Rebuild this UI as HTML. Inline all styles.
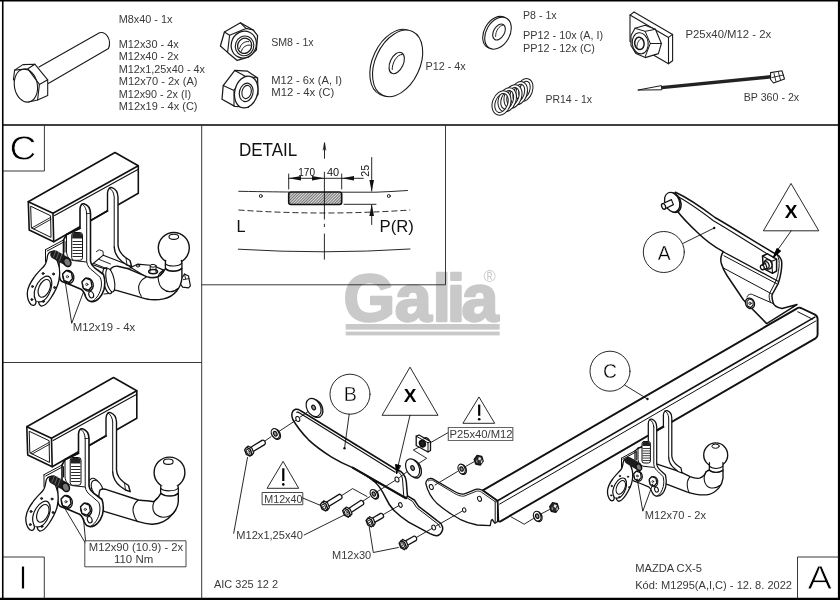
<!DOCTYPE html><html><head><meta charset="utf-8"><title>Galia MAZDA CX-5 M1295</title>
<style>html,body{margin:0;padding:0;background:#fff}svg{display:block;will-change:transform}</style></head><body>
<svg width="840" height="600" viewBox="0 0 840 600">
<rect width="840" height="600" fill="#fff"/>
<g fill="#c9c9c9" stroke="#c9c9c9" font-family='"Liberation Sans", sans-serif' font-weight="bold">
<text y="320.6" x="343.6 394.8 432.4 446.8 461.6" font-size="66.5" stroke-width="2.4" stroke-linejoin="round">Galia</text>
<rect x="345.7" y="324" width="154" height="5.6" stroke="none"/>
<rect x="345.7" y="331.6" width="154" height="3.8" stroke="none"/>
</g>
<text x="489.7" y="282.4" font-size="16.6" text-anchor="middle" fill="#c9c9c9" font-family='"Liberation Sans", sans-serif'>®</text>
<g stroke="#000" fill="none">
<path d="M2.75,0 V600" stroke-width="1.6" />
<path d="M839,0 V600" stroke-width="2.2" />
<path d="M0,0.7 H840" stroke-width="1.6" />
<path d="M0,599 H840" stroke-width="2.4" />
<path d="M2,125 H840" stroke-width="1.7" />
</g>
<g stroke="#222" fill="none">
<path d="M3,171 H44.4 V125" stroke-width="0.9" />
<path d="M201.7,125 V599" stroke-width="0.9" />
<path d="M3,362.5 H201.7" stroke-width="0.9" />
<path d="M3,557 H44.3 V598" stroke-width="0.9" />
<path d="M201.7,284.8 H445.5 V125" stroke-width="0.9" />
<path d="M839,557 H797.5 V598" stroke-width="0.9" />
</g>
<g stroke="#111" fill="none" stroke-linecap="round" stroke-linejoin="round">
<defs><pattern id="hat" width="2" height="2" patternUnits="userSpaceOnUse" patternTransform="rotate(45)"><rect width="2" height="2" fill="#dcdcdc" stroke="none"/><rect width="0.9" height="2" fill="#6a6a6a" stroke="none"/></pattern></defs>
<path d="M324.5,158.3 V143.5" stroke-width="0.9" />
<path d="M324.5,143 L323.2,150 M324.5,143 L325.8,150" stroke-width="0.8" />
<path d="M288.7,174 V189 M341.7,174 V189" stroke-width="0.9" />
<path d="M288.7,178.3 H363.3" stroke-width="0.9" />
<g fill="#111" stroke="none">
<path d="M288.7,178.3 L301,176 V180.6Z"/>
<path d="M324.5,178.3 L312,176 V180.6Z"/>
<path d="M341.7,178.3 L354,176 V180.6Z"/>
<path d="M371.7,191.7 L369.4,180 H374Z"/>
<path d="M371.7,204.3 L369.4,216 H374Z"/>
</g>
<path d="M371.7,157.5 V191 M371.7,205 V224.5" stroke-width="0.9" />
<path d="M238.7,191.3 Q281,192 288.7,192 M341.7,192.2 H376 Q392,191.6 407.5,190.5" stroke-width="0.9" />
<path d="M344,204.3 H376" stroke-width="0.9" />
<path d="M238.5,210 Q324,216 410.2,210" stroke-width="0.9" stroke-dasharray="6 3" stroke-linecap="butt"/>
<path d="M238.3,249.2 Q324,254.5 410,249" stroke-width="0.9" />
<circle cx="260.8" cy="196" r="1.5" stroke-width="0.9" fill="none"/>
<circle cx="388.8" cy="196" r="1.5" stroke-width="0.9" fill="none"/>
<rect x="288.7" y="192" width="53" height="12.5" rx="2.2" fill="url(#hat)" stroke-width="1.6"/>
<path d="M324.4,171.8 V219.5 M324.4,223.8 V227 M324.4,233.6 V259.6" stroke-width="0.9" stroke-linecap="butt"/>
<g stroke="#1a1a1a">
<path d="M39,67 L99.5,32.7 C106,31 112,40 108.5,48.5 L48.3,83.5" stroke-width="1.1" fill="#fff"/>
<path d="M14.6,70.1 L22.9,64.6 L34.8,64.2 L47.7,79.8 L47.7,95.4 L37.6,100 L27,101.8 L13.7,81.6 Z" stroke-width="1.1" fill="#fff" stroke="none"/>
<path d="M13.4,80 L14.6,70.1 L22.9,64.6 L34.8,64.2 L47.7,79.8 L47.7,95.4 L37.6,100" stroke-width="1.1" />
<path d="M14.6,70.1 L27.9,68.8 L39.4,84.4 L37.6,100 M27.9,68.8 L34.8,64.2 M39.4,84.4 L47.7,79.8 M28.5,102 L37.6,100" stroke-width="1.1" />
<ellipse cx="25.9" cy="85.6" rx="11.5" ry="16.6" transform="rotate(-10 25.9 85.6)" stroke-width="1.1" fill="none" />
<path d="M220.4,46 L224.4,32 L240.4,22.8 L253.2,30 L257.6,35.6 L256.4,50 L248.4,57.2 L237.2,60.4 L227.6,52.4 Z" stroke-width="1.25" fill="#fff"/>
<path d="M224.4,32 L229.6,35.2 L227.6,52.4 M229.6,35.2 L246,28.4 L253.2,30 M240.4,22.8 L246,28.4" stroke-width="1.1" />
<ellipse cx="243.8" cy="44.6" rx="12.4" ry="13.6" transform="rotate(25 243.8 44.6)" stroke-width="1.25" fill="#fff" />
<ellipse cx="244.6" cy="45.9" rx="9.2" ry="9.9" transform="rotate(20 244.6 45.9)" stroke-width="1.1" fill="#fff" />
<ellipse cx="244.6" cy="45.8" rx="7" ry="7.7" transform="rotate(20 244.6 45.8)" stroke-width="1.3" fill="#fff" />
<path d="M239.6,48.6 C240.5,44 244.5,41 248.6,41.6 M241.4,51.2 C242.5,47 246.5,44.4 250.4,45.2" stroke-width="1" />
<path d="M222,99.2 L223.2,85.6 L234.8,70.4 L247.6,71.2 L257.6,78 L258,94.4 L248.4,107.2 L234.8,106.4 Z" stroke-width="1.25" fill="#fff"/>
<path d="M223.2,85.6 L234,90.4 L234,106 M234,90.4 L244.8,76 L257.6,78 M234.8,70.4 L244.8,76" stroke-width="1.1" />
<ellipse cx="246.2" cy="92" rx="11.4" ry="16.2" transform="rotate(14 246.2 92)" stroke-width="1.25" fill="#fff" />
<ellipse cx="246.2" cy="92.4" rx="6.8" ry="9.3" transform="rotate(14 246.2 92.4)" stroke-width="1.2" fill="#fff" />
<ellipse cx="246.6" cy="92" rx="4.6" ry="6.7" transform="rotate(14 246.6 92)" stroke-width="1.05" fill="none" />
<ellipse cx="394.9" cy="62.6" rx="22.3" ry="35.2" transform="rotate(25 394.9 62.6)" stroke-width="1.1" fill="#fff" />
<ellipse cx="397.6" cy="63.4" rx="22.3" ry="35.2" transform="rotate(25 397.6 63.4)" stroke-width="1.1" fill="#fff" />
<ellipse cx="396.7" cy="63" rx="6.6" ry="11.4" transform="rotate(25 396.7 63)" stroke-width="1.1" fill="#fff" />
<path d="M392.2,69.5 C392,63 397,54 402.2,54.5" stroke-width="1" />
<ellipse cx="496.0" cy="32.4" rx="11.7" ry="17.2" transform="rotate(30 496.0 32.4)" stroke-width="1.1" fill="#fff" />
<ellipse cx="498.0" cy="33.2" rx="11.7" ry="17.2" transform="rotate(30 498.0 33.2)" stroke-width="1.1" fill="#fff" />
<ellipse cx="499" cy="32" rx="5.4" ry="8.6" transform="rotate(30 499 32)" stroke-width="1.1" fill="#fff" />
<path d="M495.6,36.5 C495.5,31 499,25.5 503,25.2" stroke-width="0.9" />
<ellipse cx="524.5" cy="90.0" rx="6.6" ry="10.4" transform="rotate(20 524.5 90.0)" fill="none" stroke="#1a1a1a" stroke-width="3.8"/>
<ellipse cx="524.5" cy="90.0" rx="6.6" ry="10.4" transform="rotate(20 524.5 90.0)" fill="none" stroke="#fff" stroke-width="1.8"/>
<ellipse cx="518.8" cy="93.2" rx="6.8" ry="10.6" transform="rotate(20 518.8 93.2)" fill="none" stroke="#1a1a1a" stroke-width="3.8"/>
<ellipse cx="518.8" cy="93.2" rx="6.8" ry="10.6" transform="rotate(20 518.8 93.2)" fill="none" stroke="#fff" stroke-width="1.8"/>
<ellipse cx="513.0" cy="96.5" rx="7.1" ry="10.8" transform="rotate(20 513.0 96.5)" fill="none" stroke="#1a1a1a" stroke-width="3.8"/>
<ellipse cx="513.0" cy="96.5" rx="7.1" ry="10.8" transform="rotate(20 513.0 96.5)" fill="none" stroke="#fff" stroke-width="1.8"/>
<ellipse cx="507.2" cy="99.8" rx="7.3" ry="11.0" transform="rotate(20 507.2 99.8)" fill="none" stroke="#1a1a1a" stroke-width="3.8"/>
<ellipse cx="507.2" cy="99.8" rx="7.3" ry="11.0" transform="rotate(20 507.2 99.8)" fill="none" stroke="#fff" stroke-width="1.8"/>
<ellipse cx="501.5" cy="103.0" rx="7.6" ry="11.2" transform="rotate(20 501.5 103.0)" fill="none" stroke="#1a1a1a" stroke-width="3.8"/>
<ellipse cx="501.5" cy="103.0" rx="7.6" ry="11.2" transform="rotate(20 501.5 103.0)" fill="none" stroke="#fff" stroke-width="1.8"/>
<path d="M630,15.1 L634,12 L672.6,34.4 L672.6,60.7 L668.5,63.7 L630,41.4 Z" stroke-width="1.1" fill="#fff"/>
<path d="M630,15.1 L668.5,37.4 L668.5,63.7 M668.5,37.4 L672.6,34.4" stroke-width="1.1" />
<path d="M631,35.4 L635,28.3 L645.2,25.2 L655.4,29.3 L661.4,43.5 L658.4,53.6 L645.2,57.6 L636,53.6 L631,45.5 Z" stroke-width="1.1" fill="#fff"/>
<path d="M635,28.3 L645.2,31.3 L650.3,43.5 L645.2,56.6 M645.2,31.3 L655.4,29.3 M650.3,43.5 L661.4,43.5" stroke-width="1" />
<ellipse cx="640.2" cy="43.3" rx="8" ry="10.6" transform="rotate(-8 640.2 43.3)" stroke-width="1.1" fill="#fff" />
<ellipse cx="639.4" cy="43.4" rx="4.7" ry="6.2" transform="rotate(-8 639.4 43.4)" stroke-width="1.5" fill="none" />
<path d="M637,47.5 C636.5,44 638.5,39.5 641.5,38.5" stroke-width="0.9" />
<path d="M638.2,90 L661.4,85.6 L661.8,89.4 Z" stroke-width="1" fill="#fff"/>
<path d="M661.4,87.6 L771,76.8" stroke-width="3.4" stroke="#222" stroke-linecap="butt"/>
<path d="M770.6,72.6 L782,70.8 L784.5,79 L773.5,83 L770.6,79.5 Z" stroke-width="1.1" fill="#fff"/>
<path d="M774,73.5 L776,81.5 M778.5,72.5 L780.5,80 M772,77.5 L783.5,75" stroke-width="0.9" />
</g>
<g transform="translate(0 0)" stroke="#111">
<path d="M92,264.5 L103.3,255.2 L128.5,265 L131,268 L108,270 Z" stroke-width="1.1" fill="#fff"/>
<path d="M94.2,263.6 L106.5,268.6" stroke-width="1" />
<path d="M103.3,255.2 L103,251.2 L99.2,249.8 L96.4,251.6" stroke-width="0.9" />
<path d="M98.5,259.2 L110.5,264" stroke-width="0.9" />
<circle cx="173.8" cy="248" r="15.5" stroke-width="1.4" fill="#fff"/>
<ellipse cx="173.8" cy="236.8" rx="4.8" ry="2.6" transform="rotate(0 173.8 236.8)" stroke-width="1.1" fill="none" />
<path d="M165.6,260.5 C165.2,264 165.2,266.5 165.5,268.5 C169,272.5 178.5,272.2 181.9,268.2 C182.2,265.5 182,263 181.4,260.5" stroke-width="1.3" fill="#fff"/>
<path d="M165.4,263.6 C168.5,267 178.8,266.8 182,263.2" stroke-width="1.1" />
<path d="M181.9,278 L184.5,274 L188.5,276 L190.4,285.8 L188.5,287.8 L182.6,287.1 L180.5,284" stroke-width="1.2" fill="#fff"/>
<path d="M183.4,279.6 L189,278.6 M184.5,274 L185.6,279" stroke-width="0.9" />
<path d="M130.8,267.5 L137.4,264.2 L153.1,265.5 L163.6,270.1 L159,277 L147,277.5 Z" stroke-width="1.2" fill="#fff"/>
<ellipse cx="138" cy="265.9" rx="1.7" ry="1.1" transform="rotate(0 138 265.9)" stroke-width="1" fill="none" />
<path d="M150.2,271 L150.2,266 L156,266 L156,271.5" stroke-width="1.1" fill="#fff"/>
<ellipse cx="153.1" cy="265.8" rx="2.9" ry="1.4" transform="rotate(0 153.1 265.8)" stroke-width="1" fill="#fff" />
<ellipse cx="153.1" cy="271.6" rx="4.4" ry="2.1" transform="rotate(0 153.1 271.6)" stroke-width="1.6" fill="none" />
<path d="M111.2,268.2 C113,266.6 115.5,266 117.7,266.2 L128.2,268.8 L146.6,276.7 C152,278.6 156.5,278 160,275.6 C162.5,273.5 164.3,271 165.5,268.5 C168,272.2 178,272.2 181.9,268.2 L181.9,278 C181.5,283 179.5,287.5 176.7,291 C173.5,295 169,297.8 163.6,298.9 C159,299.8 154.5,299.9 150.5,299.6 C146,299 141.5,297.6 137.4,296.3 L116.4,290.4 L109.9,289.8 C108,286 107.5,281 108.3,276 C108.9,272.5 109.8,270 111.2,268.2 Z" stroke-width="1.4" fill="#fff"/>
<path d="M146.6,276.7 C141,279.5 138,284.5 138.7,289 C139,292 140,294.5 141.3,296.3" stroke-width="1.1" />
<path d="M163.8,270 C159.5,272.5 157.5,276 158.3,279.3 C158.8,283.5 160,286.5 162.3,288.5 C164.5,290.5 167.5,291.7 170.1,291.7 C173,291.7 176,290.5 178,288.5" stroke-width="1.1" />
<ellipse cx="107.5" cy="281" rx="4.2" ry="13" transform="rotate(-12 107.5 281)" stroke-width="1.2" fill="#fff" />
<ellipse cx="110.3" cy="280.2" rx="3.9" ry="12" transform="rotate(-12 110.3 280.2)" stroke-width="1.1" fill="#fff" />
<path d="M103.5,268.5 L107,267.5 M104,294 L108,293.6" stroke-width="1" />
<path d="M28.3,201.7 L115,152.5 L138.3,165.8 L138.3,193.3 L53.7,241.7 L29.2,230 Z" stroke-width="1.6" fill="#fff"/>
<path d="M28.3,201.7 L53,213.3 L53.7,241.7" stroke-width="1.6" />
<path d="M53,213.3 L138.3,165.8" stroke-width="1.6" />
<path d="M54.6,215.6 L138.3,169.2" stroke-width="1.1" />
<path d="M31,206.4 L50.6,215.7 L51,237.4 L31.7,228 Z" stroke-width="1" />
<path d="M31.7,228 L50.6,217.4 M33.6,229 L51,219.3" stroke-width="0.9" />
<path d="M107.5,210.8 L107.5,193 C107.8,188.5 110,187 112,187.6 C116,189 117.8,193 118,197 L118,245 C118.5,251 121.5,254.5 125.5,257.5 L130,260.5 L131.7,266.7 L127,265 L122,261.5 C117,257.5 114.5,253 114.2,247 L114.2,214 Z" stroke-width="1.6" fill="#fff" stroke="none"/>
<path d="M107.5,210.8 L107.5,193 C107.8,188.5 110,187 112,187.6 C116,189 117.8,193 118,197 L118,245 C118.5,251 121.5,254.5 125.5,257.5 L130,260.5 L131.7,266.7 L127,265 L122,261.5 C117,257.5 114.5,253 114.2,247" stroke-width="1.4" />
<path d="M90.5,220.6 L107.5,210.8" stroke-width="1.6" />
<path d="M114.2,246.7 L114.2,197 C113.8,192.5 112,189.5 109.5,188" stroke-width="1" />
<path d="M127,265 L126,258" stroke-width="0.9" />
<path d="M80,228.3 L80,209 C80.2,205 82,203.4 84,203.8 C88,205 90.3,209 90.5,213.5 L90.5,261 C91,265 93.5,267.5 98.3,270.5 L103.5,274.5 C105,279 105,285 104,289.5 C102,296 97.5,301.5 92,301.6 C88.5,301.5 86.5,299 85.5,296.5 C84.5,293 83,290.5 81,289.3 L71,285 L62,281.5 C59.5,280 59,276 59,272 L59,262.5 L63.5,255 L63.5,240 L66.7,234.4 Z" stroke-width="1.6" fill="#fff"/>
<path d="M86.7,213.5 L86.7,261.5 C87.2,266 89.5,268.5 93,271 L100.2,277.3 C101.8,281 101.8,285 100.8,289 C99,295.5 95.5,299.5 92,301.6" stroke-width="1" />
<path d="M86.7,213.5 C86.3,208.5 84.5,205.5 82,204.2" stroke-width="1" />
<path d="M90.5,213.5 L86.7,213.5" stroke-width="0.8" />
<path d="M66.5,234.5 L66.5,252 C67,257 69.5,259.5 73,260.5 L86.5,262" stroke-width="1" />
<path d="M66.7,234.4 L80,228.3" stroke-width="1.6" />
<rect x="71.7" y="232.5" width="10.8" height="27.8" rx="2.6" fill="#fff" stroke-width="1"/>
<path d="M72.2,238.5 V235 Q72.2,233 74.5,233 H79.8 Q82,233 82,235 V238.5Z" fill="#222" stroke="none"/>
<path d="M73,241.5 H81.5 M73,244.5 H81.5 M73,247.5 H81.5 M73,250.5 H81.5 M73,253.5 H81.5 M73,256.5 H81.5" stroke-width="0.9" />
<path d="M45.5,249.7 L63.5,240 L65,241.5 L65,252 M45.5,249.7 L45.5,262 M47.2,251 L63.8,242" stroke-width="1" />
<path d="M53.7,251.2 C50,251.5 48,253 47.5,256 C47,260 46.5,263 44.5,265.5 C41,269.5 37,273 34,277.5 C30,283 27.5,288 27.3,293 C27.2,298 28.5,302 31,304.5 C33,306 35,305.5 35.7,303.5 C36.2,302 36,301 35.5,300 L38.5,301.8 C38.8,303.5 39.5,305.3 41,306 C44,306.5 47.5,303 50.5,298.5 C54.5,292.5 57.5,287 58.8,281 C60,275 60,268 58,263 Z" stroke-width="1.3" fill="#fff"/>
<path d="M35.5,300 C33.5,296 34,289.5 37.5,283.5 C41.5,277 47,274.5 50,277.5 C53,281 52,289 48.5,295 C45.5,300 41.5,302.5 38.5,301.8" stroke-width="1.2" fill="#fff"/>
<ellipse cx="44.3" cy="288.4" rx="5.4" ry="9.4" transform="rotate(24 44.3 288.4)" stroke-width="1.1" fill="none" />
<circle cx="43.1" cy="273.5" r="1.0" stroke-width="0.9" fill="#333"/>
<circle cx="53.5" cy="274" r="1.0" stroke-width="0.9" fill="#333"/>
<circle cx="32.5" cy="286.5" r="1.0" stroke-width="0.9" fill="#333"/>
<circle cx="54.6" cy="287.5" r="1.0" stroke-width="0.9" fill="#333"/>
<circle cx="31.8" cy="299.6" r="1.0" stroke-width="0.9" fill="#333"/>
<circle cx="43.4" cy="301.4" r="1.0" stroke-width="0.9" fill="#333"/>
<path d="M54.5,254.5 L66,261" stroke-width="8.5" stroke="#1c1c1c" stroke-linecap="round"/>
<path d="M56,250.5 L53.5,257 M59,252 L56.5,258.7 M62,253.8 L59.5,260.5" stroke-width="0.8" stroke="#777"/>
<ellipse cx="67.3" cy="262.3" rx="3.4" ry="4.4" transform="rotate(-25 67.3 262.3)" stroke-width="1.6" fill="#777" />
<ellipse cx="68.39999999999999" cy="276.9" rx="5.4" ry="6.6" transform="rotate(-15 68.39999999999999 276.9)" stroke-width="1.3" fill="#fff" />
<path d="M62.599999999999994,274.1 L66.19999999999999,270.5 L71.39999999999999,272.5 L72.6,278.5 L69.19999999999999,282.5 L63.99999999999999,280.7 Z" stroke-width="1.4" fill="#fff"/>
<circle cx="67.39999999999999" cy="276.7" r="1.1" stroke-width="0.8" fill="none"/>
<ellipse cx="87.8" cy="284.59999999999997" rx="5.4" ry="6.6" transform="rotate(-15 87.8 284.59999999999997)" stroke-width="1.3" fill="#fff" />
<path d="M82,281.8 L85.6,278.2 L90.8,280.2 L92,286.2 L88.6,290.2 L83.4,288.4 Z" stroke-width="1.4" fill="#fff"/>
<circle cx="86.8" cy="284.4" r="1.1" stroke-width="0.8" fill="none"/>
<ellipse cx="91.2" cy="294.7" rx="2.3" ry="3.3" transform="rotate(-20 91.2 294.7)" stroke-width="1.1" fill="#fff" />
</g>
<path d="M65,280.5 L71.7,323.3 L83.3,292.5" stroke-width="0.9" />
<g transform="translate(-1.5 225)" stroke="#111">
<circle cx="171" cy="247.5" r="15.4" stroke-width="1.4" fill="#fff"/>
<ellipse cx="169.8" cy="236.7" rx="4.8" ry="2.7" transform="rotate(0 169.8 236.7)" stroke-width="1.1" fill="none" />
<path d="M162.4,260.5 C162,264 162,266.5 162.3,268.3 C166,272 176.5,272 179.8,268.3 C180.1,266 180,263.5 179.4,260.5" stroke-width="1.3" fill="#fff"/>
<path d="M162.2,263.4 C165.5,266.8 176.8,266.6 179.9,263" stroke-width="1.1" />
<ellipse cx="96.5" cy="262" rx="5.6" ry="9.2" transform="rotate(-25 96.5 262)" stroke-width="1.1" fill="#fff" />
<ellipse cx="98.6" cy="263.4" rx="5.2" ry="8.6" transform="rotate(-25 98.6 263.4)" stroke-width="1.1" fill="#fff" />
<path d="M101.5,265 C103,264 105,263.9 106.5,264.2 L139.8,275 C143,275.6 146,275.8 148.2,275.8 C151,276 153.5,276.5 154.8,276.7 C157.5,275.3 160.2,272 162.3,268.3 C166,272 176.5,272 179.8,268.3 L179.8,276.7 C179.5,281 177.5,285 174.8,288.3 C172,291.8 168.5,294.8 164.8,296.7 C161,298.6 157,299.3 153.2,299.2 C148.5,299 144,298 139.8,296.7 L106.5,286.7 L102.3,285 C100.5,281 100,276 100.3,271.5 C100.5,268.5 100.8,266.5 101.5,265 Z" stroke-width="1.4" fill="#fff"/>
<path d="M139.8,275 C135.5,278.5 133.8,283 134.8,287.5 C135.6,291 137,294.5 139,296.7" stroke-width="1.1" />
<path d="M158.2,273.3 C155,276.5 153.8,281.5 154.8,285.5 C156,289.5 160.5,292 164.5,292.2 C169.5,292.4 174.5,289.5 177.3,285" stroke-width="1.1" />
<path d="M28.3,201.7 L115,152.5 L138.3,165.8 L138.3,193.3 L53.7,241.7 L29.2,230 Z" stroke-width="1.6" fill="#fff"/>
<path d="M28.3,201.7 L53,213.3 L53.7,241.7" stroke-width="1.6" />
<path d="M53,213.3 L138.3,165.8" stroke-width="1.6" />
<path d="M54.6,215.6 L138.3,169.2" stroke-width="1.1" />
<path d="M31,206.4 L50.6,215.7 L51,237.4 L31.7,228 Z" stroke-width="1" />
<path d="M31.7,228 L50.6,217.4 M33.6,229 L51,219.3" stroke-width="0.9" />
<path d="M107.5,210.8 L107.5,193 C107.8,188.5 110,187 112,187.6 C116,189 117.8,193 118,197 L118,245 C118.5,251 121.5,254.5 125.5,257.5 L130,260.5 L131.7,266.7 L127,265 L122,261.5 C117,257.5 114.5,253 114.2,247 L114.2,214 Z" stroke-width="1.6" fill="#fff" stroke="none"/>
<path d="M107.5,210.8 L107.5,193 C107.8,188.5 110,187 112,187.6 C116,189 117.8,193 118,197 L118,245 C118.5,251 121.5,254.5 125.5,257.5 L130,260.5 L131.7,266.7 L127,265 L122,261.5 C117,257.5 114.5,253 114.2,247" stroke-width="1.4" />
<path d="M90.5,220.6 L107.5,210.8" stroke-width="1.6" />
<path d="M114.2,246.7 L114.2,197 C113.8,192.5 112,189.5 109.5,188" stroke-width="1" />
<path d="M127,265 L126,258" stroke-width="0.9" />
<path d="M80,228.3 L80,209 C80.2,205 82,203.4 84,203.8 C88,205 90.3,209 90.5,213.5 L90.5,261 C91,265 93.5,267.5 98.3,270.5 L103.5,274.5 C105,279 105,285 104,289.5 C102,296 97.5,301.5 92,301.6 C88.5,301.5 86.5,299 85.5,296.5 C84.5,293 83,290.5 81,289.3 L71,285 L62,281.5 C59.5,280 59,276 59,272 L59,262.5 L63.5,255 L63.5,240 L66.7,234.4 Z" stroke-width="1.6" fill="#fff"/>
<path d="M86.7,213.5 L86.7,261.5 C87.2,266 89.5,268.5 93,271 L100.2,277.3 C101.8,281 101.8,285 100.8,289 C99,295.5 95.5,299.5 92,301.6" stroke-width="1" />
<path d="M86.7,213.5 C86.3,208.5 84.5,205.5 82,204.2" stroke-width="1" />
<path d="M90.5,213.5 L86.7,213.5" stroke-width="0.8" />
<path d="M66.5,234.5 L66.5,252 C67,257 69.5,259.5 73,260.5 L86.5,262" stroke-width="1" />
<path d="M66.7,234.4 L80,228.3" stroke-width="1.6" />
<rect x="71.7" y="232.5" width="10.8" height="27.8" rx="2.6" fill="#fff" stroke-width="1"/>
<path d="M72.2,238.5 V235 Q72.2,233 74.5,233 H79.8 Q82,233 82,235 V238.5Z" fill="#222" stroke="none"/>
<path d="M73,241.5 H81.5 M73,244.5 H81.5 M73,247.5 H81.5 M73,250.5 H81.5 M73,253.5 H81.5 M73,256.5 H81.5" stroke-width="0.9" />
<path d="M45.5,249.7 L63.5,240 L65,241.5 L65,252 M45.5,249.7 L45.5,262 M47.2,251 L63.8,242" stroke-width="1" />
<path d="M53.7,251.2 C50,251.5 48,253 47.5,256 C47,260 46.5,263 44.5,265.5 C41,269.5 37,273 34,277.5 C30,283 27.5,288 27.3,293 C27.2,298 28.5,302 31,304.5 C33,306 35,305.5 35.7,303.5 C36.2,302 36,301 35.5,300 L38.5,301.8 C38.8,303.5 39.5,305.3 41,306 C44,306.5 47.5,303 50.5,298.5 C54.5,292.5 57.5,287 58.8,281 C60,275 60,268 58,263 Z" stroke-width="1.3" fill="#fff"/>
<path d="M35.5,300 C33.5,296 34,289.5 37.5,283.5 C41.5,277 47,274.5 50,277.5 C53,281 52,289 48.5,295 C45.5,300 41.5,302.5 38.5,301.8" stroke-width="1.2" fill="#fff"/>
<ellipse cx="44.3" cy="288.4" rx="5.4" ry="9.4" transform="rotate(24 44.3 288.4)" stroke-width="1.1" fill="none" />
<circle cx="43.1" cy="273.5" r="1.0" stroke-width="0.9" fill="#333"/>
<circle cx="53.5" cy="274" r="1.0" stroke-width="0.9" fill="#333"/>
<circle cx="32.5" cy="286.5" r="1.0" stroke-width="0.9" fill="#333"/>
<circle cx="54.6" cy="287.5" r="1.0" stroke-width="0.9" fill="#333"/>
<circle cx="31.8" cy="299.6" r="1.0" stroke-width="0.9" fill="#333"/>
<circle cx="43.4" cy="301.4" r="1.0" stroke-width="0.9" fill="#333"/>
<path d="M54.5,254.5 L66,261" stroke-width="8.5" stroke="#1c1c1c" stroke-linecap="round"/>
<path d="M56,250.5 L53.5,257 M59,252 L56.5,258.7 M62,253.8 L59.5,260.5" stroke-width="0.8" stroke="#777"/>
<ellipse cx="67.3" cy="262.3" rx="3.4" ry="4.4" transform="rotate(-25 67.3 262.3)" stroke-width="1.6" fill="#777" />
<ellipse cx="68.39999999999999" cy="276.9" rx="5.4" ry="6.6" transform="rotate(-15 68.39999999999999 276.9)" stroke-width="1.3" fill="#fff" />
<path d="M62.599999999999994,274.1 L66.19999999999999,270.5 L71.39999999999999,272.5 L72.6,278.5 L69.19999999999999,282.5 L63.99999999999999,280.7 Z" stroke-width="1.4" fill="#fff"/>
<circle cx="67.39999999999999" cy="276.7" r="1.1" stroke-width="0.8" fill="none"/>
<ellipse cx="87.8" cy="284.59999999999997" rx="5.4" ry="6.6" transform="rotate(-15 87.8 284.59999999999997)" stroke-width="1.3" fill="#fff" />
<path d="M82,281.8 L85.6,278.2 L90.8,280.2 L92,286.2 L88.6,290.2 L83.4,288.4 Z" stroke-width="1.4" fill="#fff"/>
<circle cx="86.8" cy="284.4" r="1.1" stroke-width="0.8" fill="none"/>
<ellipse cx="91.2" cy="294.7" rx="2.3" ry="3.3" transform="rotate(-20 91.2 294.7)" stroke-width="1.1" fill="#fff" />
</g>
<path d="M61.6,503 L85.8,543.7 L83.5,518.8" stroke-width="0.9" />
<rect x="85.2" y="540.8" width="100.8" height="26" fill="#fff" stroke="#333" stroke-width="0.9"/>
<g stroke="#111">
<path d="M482.8,490.4 L796.7,308.6 C798,307.6 799.5,307.4 801,308 L814.5,314.4 C816.8,315.6 817.6,317 817.6,319 L817.6,334.6 C817.6,336.6 816.8,337.6 815.5,338.4 L500,521.6 L498.3,521 L497.5,501.4 Z" stroke-width="1.9" fill="#fff"/>
<path d="M497.6,500.7 L814.8,317.1" stroke-width="1.6" />
<path d="M499.6,504.1 L816,320.9" stroke-width="1" />
<path d="M482.8,490.4 L497.6,500.7" stroke-width="1.6" />
<path d="M797.8,311.8 L812.6,319.2" stroke-width="1" />
<circle cx="715.7" cy="454.9" r="12" stroke-width="1.35" fill="#fff"/>
<ellipse cx="715.6" cy="446.2" rx="3.7" ry="2.1" transform="rotate(0 715.6 446.2)" stroke-width="1" fill="none" />
<path d="M656.3,463.8 L680.4,471.8 C684,473.5 687,475.2 690,476.6 C693.5,478 697,478.6 699.6,478.2 C703,477 705,474.5 706.1,471.8 C707.5,470.6 708.6,470.2 709.3,470 C712,473 720,473 723,470 L723,478.2 C722.5,482 721,485.5 718.9,487.9 C716,491 713,493.5 709.3,494.3 C705,495.2 700.5,495 696.4,494.3 C693,493.8 690,493 686.8,491.9 L665.9,483.8 L658,481 C656.5,476 656,470 656.3,463.8 Z" stroke-width="1.35" fill="#fff"/>
<path d="M709.5,462.6 L709.3,470 C712,473 720,473 723,470 L722.9,462.6" stroke-width="1.25" fill="#fff"/>
<path d="M709.4,466.2 C712,469.2 720,469.2 723,466.2" stroke-width="1.05" />
<path d="M690,476.6 C687.6,479.5 686.8,483.5 687.4,487 C687.8,489.5 688.4,491.2 689.2,492.7" stroke-width="1.05" />
<path d="M706.1,471.8 C704,475.5 703.8,479 704.6,481.6 C705.6,485 708,487.4 710.9,487.9 C714,488.4 717.5,487.6 719.7,485.5" stroke-width="1.05" />
<path d="M663.4,426.6 L663.4,415 C663.6,411.5 665.5,410.2 667.3,410.7 C670.3,411.8 671.7,415 671.8,418 L671.8,456 C672.2,460.5 674.5,463.2 677.5,465.5 L681,468 L682,473 L678,471.5 L674.5,468.5 C670.8,465.5 668.9,462 668.7,457.5 L668.7,429.5 Z" stroke-width="1.25" fill="#fff" stroke="none"/>
<path d="M663.4,426.6 L663.4,415 C663.6,411.5 665.5,410.2 667.3,410.7 C670.3,411.8 671.7,415 671.8,418 L671.8,456 C672.2,460.5 674.5,463.2 677.5,465.5 L681,468 L682,473 L678,471.5 L674.5,468.5 C670.8,465.5 668.9,462 668.7,457.5" stroke-width="1.25" />
<path d="M656.7,430.4 L663.4,426.6" stroke-width="1.9" />
<path d="M668.7,457.5 L668.7,418 C668.4,414.5 667,412 665,411" stroke-width="1" />
<path d="M648.3,446 L648.3,423.5 C648.5,420 650,418.8 651.8,419.2 C655,420.3 656.6,423.5 656.7,427 L656.7,464 C657.1,467.5 659,469.5 662,471.8 L665.5,475 C666.5,479 666.5,483 665.7,487 C664.2,492.5 661,496.2 657,496.2 C654.3,496 652.8,494 652,492 C651.3,489.5 650.2,487.8 648.6,486.8 L640.5,483.5 L633.5,480.8 C631.8,479.6 631.5,476.5 631.5,473.5 L631.5,466 L635,460 L635,451 L638,448.2 Z" stroke-width="1.25" fill="#fff"/>
<path d="M653.8,427 L653.8,464.5 C654.2,468 656,470 658.5,472 L663,476.5 C664,480 664,483 663.3,486.5 C662,491.5 659.8,494.6 657,496.2" stroke-width="1" />
<path d="M653.8,427 C653.5,423.3 652,420.8 650,419.6" stroke-width="1" />
<path d="M638,448.2 L638,459.5 C638.4,463.5 640.3,465.4 643,466.2 L653.5,467.4" stroke-width="1" />
<path d="M638,448.2 L648.3,443.5" stroke-width="1.2" />
<rect x="642" y="441.5" width="8.4" height="21.5" rx="2" fill="#fff" stroke-width="1"/>
<path d="M642.4,446 V443.5 Q642.4,442 644,442 H648.4 Q650,442 650,443.5 V446Z" fill="#222" stroke="none"/>
<path d="M643,448.5 H649.6 M643,450.9 H649.6 M643,453.3 H649.6 M643,455.7 H649.6 M643,458.1 H649.6 M643,460.5 H649.6" stroke-width="0.8" />
<path d="M621.5,458.2 L635.5,450.5 L636.7,451.7 L636.7,460 M621.5,458.2 L621.5,467.5 M622.8,459.2 L635.8,452" stroke-width="1" />
<path d="M628,458.5 C625.2,458.7 623.6,460 623.2,462.3 C622.8,465.4 622.4,467.8 620.9,469.7 C618.2,472.8 615,475.6 612.7,479 C609.6,483.3 607.7,487.2 607.5,491.1 C607.4,495 608.4,498.1 610.4,500.1 C612,501.2 613.5,500.9 614,499.3 C614.4,498.1 614.3,497.4 613.9,496.6 L616.2,498 C616.4,499.3 617,500.7 618.2,501.2 C620.5,501.6 623.2,498.9 625.6,495.4 C628.7,490.7 631,486.4 632,481.7 C633,477 633,471.6 631.4,467.7 Z" stroke-width="1.3" fill="#fff"/>
<path d="M613.9,496.6 C612.3,493.5 612.7,488.4 615.4,483.7 C618.6,478.6 622.8,476.7 625.2,479 C627.5,481.7 626.7,488 624,492.7 C621.7,496.6 618.6,498.5 616.2,498" stroke-width="1.2" fill="#fff"/>
<ellipse cx="620.8" cy="487.4" rx="4.1" ry="7.2" transform="rotate(24 620.8 487.4)" stroke-width="1" fill="none" />
<circle cx="619.9" cy="476" r="0.7" stroke-width="0.8" fill="#333"/>
<circle cx="628" cy="476.7" r="0.7" stroke-width="0.8" fill="#333"/>
<circle cx="611.7" cy="486" r="0.7" stroke-width="0.8" fill="#333"/>
<circle cx="629.2" cy="487.2" r="0.7" stroke-width="0.8" fill="#333"/>
<circle cx="611.2" cy="495.4" r="0.7" stroke-width="0.8" fill="#333"/>
<circle cx="619.3" cy="497.1" r="0.7" stroke-width="0.8" fill="#333"/>
<path d="M628.6,460.6 L637.8,466" stroke-width="7.4" stroke="#1c1c1c" stroke-linecap="round"/>
<ellipse cx="638.8" cy="467.2" rx="2.6" ry="3.4" transform="rotate(-25 638.8 467.2)" stroke-width="1.4" fill="#777" />
<ellipse cx="638.1" cy="476.1" rx="4.2" ry="5.2" transform="rotate(-15 638.1 476.1)" stroke-width="1.1" fill="#fff" />
<path d="M633.7,473.90000000000003 L636.5,471.1 L640.4,472.8 L641.3,477.40000000000003 L638.7,480.5 L634.7,479.0 Z" stroke-width="1.25" fill="#fff"/>
<circle cx="637.3" cy="476.0" r="0.9" stroke-width="0.8" fill="none"/>
<ellipse cx="653.6" cy="481.6" rx="4.2" ry="5.2" transform="rotate(-15 653.6 481.6)" stroke-width="1.1" fill="#fff" />
<path d="M649.2,479.40000000000003 L652,476.6 L655.9,478.3 L656.8,482.90000000000003 L654.2,486.0 L650.2,484.5 Z" stroke-width="1.25" fill="#fff"/>
<circle cx="652.8" cy="481.5" r="0.9" stroke-width="0.8" fill="none"/>
<ellipse cx="656.5" cy="489.6" rx="1.8" ry="2.6" transform="rotate(-20 656.5 489.6)" stroke-width="1" fill="#fff" />
<path d="M637.2,479 L642.8,511.2 L652.8,484" stroke-width="0.9" />
<path d="M675.5,192.3 C690,199 703,208.5 715,217.5 C735,229 755,242 773,252.5 C777.5,254 781,257.5 781.7,262 C782,268 781,275 778.3,283.3 L772.2,294.5 C771.5,296.5 772,299 773.2,303 C774,305.5 777,307.5 782,308.5 L797,304.6 L766.7,323.6 L743.5,300 L727,275.5 C725,272.5 723,269 721.5,264 C720.2,260 720.5,256 723.3,251.7 C712,245.5 703,238 697.5,232.5 C688,223.5 681,216 677.5,211.2 C672,206 670,199 675.5,192.3 Z" stroke-width="1.5" fill="#fff"/>
<path d="M676.4,195.8 C689.4,202.6 701.4,211.6 713.4,220.7 C733.4,232.3 752.4,244.7 768.5,254.8" stroke-width="1.1" />
<path d="M723.3,251.7 L725.5,253 L778,281.2" stroke-width="1.3" />
<path d="M724,255.8 L777.2,284" stroke-width="1" />
<path d="M722.5,267.5 L771.5,293.8" stroke-width="1" />
<path d="M747,297 C748,294 751,293.5 753.5,295 L773,303.5" stroke-width="1" />
<path d="M777.5,255.5 C779,258 779.5,262 779,267 C778.5,273 777,279 775,283 L769.5,293.5 C768.8,296 769.2,299 770.3,302" stroke-width="1" />
<ellipse cx="673.4" cy="202.6" rx="7.2" ry="10.2" transform="rotate(-22 673.4 202.6)" stroke-width="1.5" fill="#fff" />
<ellipse cx="672.2" cy="202.2" rx="7.2" ry="10.2" transform="rotate(-22 672.2 202.2)" stroke-width="1.3" fill="#fff" />
<path d="M662.6,203.8 L671.4,199.6 L673.4,204.6 L664.6,209" stroke-width="1.2" fill="#fff"/>
<ellipse cx="663.6" cy="206.4" rx="1.9" ry="2.9" transform="rotate(-22 663.6 206.4)" stroke-width="1.3" fill="#fff" />
<path d="M762.5,256 L767.5,253.8 L776.6,259.2 L776.6,271 L772.5,273.3 L763.3,268.3 Z" stroke-width="1.5" fill="#fff"/>
<path d="M762.5,256 L771.8,261.3 L772.5,273.3 M771.8,261.3 L776.6,259.2" stroke-width="1.1" />
<ellipse cx="768" cy="264.4" rx="3.9" ry="4.8" transform="rotate(-20 768 264.4)" stroke-width="1.5" fill="#fff" />
<ellipse cx="766.2" cy="265.3" rx="2.8" ry="3.6" transform="rotate(-20 766.2 265.3)" stroke-width="1.3" fill="#fff" />
<path d="M761.6,265.4 L765.5,263.4 L767,268 L763.2,269.8" stroke-width="1.2" fill="#fff"/>
<ellipse cx="762.3" cy="267.4" rx="1.8" ry="2.4" transform="rotate(-20 762.3 267.4)" stroke-width="1.3" fill="#fff" />
<ellipse cx="750" cy="303.3" rx="4.4" ry="5.4" transform="rotate(-25 750 303.3)" stroke-width="1.3" fill="#fff" />
<path d="M747,301.5 L749.5,298.8 L753,300.5 L753.2,305 L750.6,307.6 L747.2,305.8 Z" stroke-width="1.1" fill="#fff"/>
<circle cx="750" cy="303.3" r="1.2" stroke-width="0.9" fill="none"/>
<circle cx="663.8" cy="252" r="20.5" stroke-width="0.9" fill="#fff"/>
<path d="M683,243.4 L714.2,228" stroke-width="0.9" />
<circle cx="714.2" cy="228" r="1.2" fill="#111" stroke="none"/>
<path d="M791.2,183.8 L818.8,230.8 L763.8,230.8 Z" stroke-width="0.9" fill="#fff"/>
<path d="M791.2,230.8 L776.5,251.5" stroke-width="0.9" />
<path d="M773.2,257.6 L777,248.6 L780.4,251Z" fill="#000" stroke="#000" stroke-width="1.1"/>
<circle cx="610" cy="371.2" r="20" stroke-width="0.9" fill="#fff"/>
<path d="M624.5,385 L647.5,399" stroke-width="0.9" />
<circle cx="647.5" cy="399" r="1.2" fill="#111" stroke="none"/>
<path d="M425.8,483.3 C426,480 429,477.6 432.3,478.6 L453.3,490.8 C457,493 460.5,494.4 463.5,494.2 C468,493 472.5,490.5 476.7,489.2 C478.5,488.8 480.3,489.2 481.7,490 L495.5,499.8 C497,501 497.6,502 497.6,503.5 L497.6,521.5 L495,523.3 L492.2,519.5 L491.2,520.5 L490.2,525.7 L477.1,525 C471,523.8 465.5,522 460,519.3 C452,515 444,509.5 437.1,503.6 C432,498.5 427.5,491 425.8,483.3 Z" stroke-width="1.3" fill="#fff"/>
<path d="M495.2,501.5 L495.2,521.5" stroke-width="1" />
<path d="M428.2,481 C430,479.5 432,479.8 433.5,480.8 L453.5,492.8 C457,495 460.5,496.4 463.8,496.2 C468,495 472,492.6 476.5,491.2 C478.5,490.8 480,491.3 481.5,492.2 L495,501.6" stroke-width="0.9" />
<ellipse cx="431.3" cy="487" rx="1.9" ry="2.6" transform="rotate(-20 431.3 487)" stroke-width="1" fill="#fff" />
<ellipse cx="479.5" cy="498.8" rx="1.9" ry="2.6" transform="rotate(-20 479.5 498.8)" stroke-width="1" fill="#fff" />
<ellipse cx="464.2" cy="510" rx="1.6" ry="2.2" transform="rotate(-20 464.2 510)" stroke-width="1" fill="#fff" />
<path d="M435,485 L457.5,471.5 M465.5,466.5 L474,461.8" stroke-width="0.9" />
<ellipse cx="462.70000000000005" cy="469.495" rx="3.4" ry="5" transform="rotate(-20 462.70000000000005 469.495)" stroke-width="1.4" fill="#fff" />
<ellipse cx="461.6" cy="469" rx="3.4" ry="5" transform="rotate(-20 461.6 469)" stroke-width="1.2" fill="#fff" />
<ellipse cx="461.6" cy="469" rx="1.53" ry="2.25" transform="rotate(-20 461.6 469)" stroke-width="1.2" fill="#999" />
<path d="M483.2,461.1 L480.3,465.0 L475.7,464.1 L474.2,459.3 L477.1,455.4 L481.7,456.3Z" stroke-width="1.3" fill="#2a2a2a"/>
<path d="M478.9,457.0 L481.3,458.0 L480.3,460.6 L478.1,459.4Z" stroke-width="0.4" fill="#e8e8e8" stroke="none"/>
<path d="M480.9,461.0 L482.5,459.6 L482.3,462.4 L480.9,463.4Z" stroke-width="0.4" fill="#d0d0d0" stroke="none"/>
<path d="M476.3,459.6 L477.5,460.4 L477.3,463.0 L476.1,462.0Z" stroke-width="0.4" fill="#9a9a9a" stroke="none"/>
<path d="M510.8,516.7 L524.2,524.2 L533.5,518.5 M541,514 L549.5,509.5" stroke-width="0.9" />
<ellipse cx="538.3000000000001" cy="516.695" rx="3.6" ry="5" transform="rotate(-20 538.3000000000001 516.695)" stroke-width="1.4" fill="#fff" />
<ellipse cx="537.2" cy="516.2" rx="3.6" ry="5" transform="rotate(-20 537.2 516.2)" stroke-width="1.2" fill="#fff" />
<ellipse cx="537.2" cy="516.2" rx="1.62" ry="2.25" transform="rotate(-20 537.2 516.2)" stroke-width="1.2" fill="#999" />
<path d="M558.7,508.4 L555.8,512.3 L551.2,511.4 L549.7,506.6 L552.6,502.7 L557.2,503.6Z" stroke-width="1.3" fill="#2a2a2a"/>
<path d="M554.4,504.3 L556.8,505.3 L555.8,507.9 L553.6,506.7Z" stroke-width="0.4" fill="#e8e8e8" stroke="none"/>
<path d="M556.4,508.3 L558.0,506.9 L557.8,509.7 L556.4,510.7Z" stroke-width="0.4" fill="#d0d0d0" stroke="none"/>
<path d="M551.8,506.9 L553.0,507.7 L552.8,510.3 L551.6,509.3Z" stroke-width="0.4" fill="#9a9a9a" stroke="none"/>
<path d="M373.3,480.5 C376,483 378.5,485.5 380,487.9 C382.5,491.5 384,494.5 385.7,497.9 C388,503 391,507.5 394.3,510.7 C398.5,514.8 403.5,518.8 408.6,522.1 L430,533.6 C433,535 435.5,535.9 437.1,535.7 C439.5,535 441,533.8 441.6,532.1 C442.8,530 443,528 442.3,526.4 C441.2,523.5 439.2,521.8 437.1,520.7 L427.1,512.9 L418.6,506.4 L414.3,500 L407.1,495.7 L397,487 Z" stroke-width="1.5" fill="#fff"/>
<path d="M407.5,498.2 L412.6,501.4 L416.6,507.6 L425,514 L435,521.8 C437.5,523.4 439.2,525.2 440.2,527.6" stroke-width="1" />
<ellipse cx="400.4" cy="505" rx="1.7" ry="2.4" transform="rotate(-20 400.4 505)" stroke-width="1" fill="#fff" />
<ellipse cx="433.7" cy="527.5" rx="1.8" ry="2.5" transform="rotate(-20 433.7 527.5)" stroke-width="1" fill="#fff" />
<path d="M295.5,409.3 C297.5,408.8 299,409.6 300.2,410.5 L396.9,470 C399.5,470.5 401.5,471.5 403,473.5 C405,476 406,479 406.3,481.6 L407.5,496.8 L404.8,497.6 L352.6,467.6 C345,464.5 338,461 331.6,457.1 C322,451 314,445 308.3,439.6 C302,433 296,425 292.8,419.5 C290.8,415 291.8,410.5 295.5,409.3 Z" stroke-width="1.5" fill="#fff"/>
<path d="M296.6,412.2 C298,411.9 299,412.6 300,413.3 L395.2,472.2" stroke-width="1.1" />
<path d="M352.6,467.6 L406,498.2" stroke-width="2.2" />
<path d="M352.6,467.6 C360,471.5 367,476 373.6,481.6" stroke-width="1" />
<path d="M398.5,472 C400.5,473.5 402,476 402.5,479 L403.8,496.8" stroke-width="1" />
<ellipse cx="297.8" cy="419" rx="1.9" ry="2.6" transform="rotate(-20 297.8 419)" stroke-width="1" fill="#fff" />
<ellipse cx="397" cy="479.5" rx="1.9" ry="2.6" transform="rotate(-20 397 479.5)" stroke-width="1" fill="#fff" />
<path d="M341.5,436.2 L347,439.6 M351,442.2 L356.5,445.6" stroke-width="0.8" />
<path d="M251.7,450 L271,436.8 M279,431.4 L296,420.2 M300,417.2 L309,411" stroke-width="0.9" />
<ellipse cx="315.40000000000003" cy="408.31" rx="6.8" ry="9.6" transform="rotate(-28 315.40000000000003 408.31)" stroke-width="1.4" fill="#fff" />
<ellipse cx="313.6" cy="407.5" rx="6.8" ry="9.6" transform="rotate(-28 313.6 407.5)" stroke-width="1.2" fill="#fff" />
<ellipse cx="313.6" cy="407.5" rx="1.7" ry="2.4" transform="rotate(-28 313.6 407.5)" stroke-width="1.2" fill="#999" />
<ellipse cx="276.40000000000003" cy="434.195" rx="3.6" ry="5.4" transform="rotate(-28 276.40000000000003 434.195)" stroke-width="1.4" fill="#fff" />
<ellipse cx="275.3" cy="433.7" rx="3.6" ry="5.4" transform="rotate(-28 275.3 433.7)" stroke-width="1.2" fill="#fff" />
<ellipse cx="275.3" cy="433.7" rx="1.62" ry="2.43" transform="rotate(-28 275.3 433.7)" stroke-width="1.2" fill="#999" />
<path d="M251.5,452.6 L264.6,444.6 A2.45,1.8375000000000001 58 0 0 262.0,440.4 L248.9,448.5" stroke-width="1.3" fill="#fff"/>
<path d="M253.7,452.8 L251.7,455.5 L247.8,453.4 L246.0,448.7 L248.0,446.0 L251.9,448.1Z" stroke-width="1.2" fill="#fff"/>
<path d="M251.9,453.7 L250.0,456.2 L246.3,454.3 L244.6,449.8 L246.5,447.3 L250.2,449.2Z" stroke-width="1.4" fill="#fff"/>
<ellipse cx="248.0740720601961" cy="451.86188812514973" rx="1.5" ry="2.6" transform="rotate(-31.585897503866764 248.0740720601961 451.86188812514973)" stroke-width="0.9" fill="none" />
<circle cx="248.1" cy="451.9" r="0.6" fill="#111" stroke="none"/>
<circle cx="350" cy="394.2" r="20" stroke-width="0.9" fill="#fff"/>
<path d="M349.2,414.2 L344.5,448.3" stroke-width="0.9" />
<circle cx="344.5" cy="448.3" r="1.2" fill="#111" stroke="none"/>
<path d="M410.2,367.5 L438,415.3 L382.5,415.3 Z" stroke-width="0.9" fill="#fff"/>
<path d="M410,415.3 L397.6,468" stroke-width="0.9" />
<path d="M396.6,473.5 L395.6,464.5 L400.2,465.6Z" fill="#000" stroke="#000" stroke-width="1"/>
<path d="M420,446.7 L413.3,450 L426.7,458.3 L417,464.5 M408,471 L399.5,477.5" stroke-width="0.9" />
<ellipse cx="414.40000000000003" cy="468.81" rx="6.4" ry="9.6" transform="rotate(-25 414.40000000000003 468.81)" stroke-width="1.4" fill="#fff" />
<ellipse cx="412.6" cy="468" rx="6.4" ry="9.6" transform="rotate(-25 412.6 468)" stroke-width="1.2" fill="#fff" />
<ellipse cx="412.6" cy="468" rx="1.6" ry="2.4" transform="rotate(-25 412.6 468)" stroke-width="1.2" fill="#999" />
<path d="M416.2,436.2 L419,435 L430.5,441.5 L430.5,450.5 L428,452 L416.2,445.5 Z" stroke-width="1.3" fill="#fff"/>
<path d="M416.2,436.2 L428,442.8 L428,452 M428,442.8 L430.5,441.5" stroke-width="1" />
<ellipse cx="422.4" cy="443.6" rx="2.5" ry="3.1" transform="rotate(-20 422.4 443.6)" stroke-width="2.2" fill="#222" />
<path d="M424,438.6 C425.5,437 428,437.6 429.4,440.2" stroke-width="1.2" />
<path d="M430.8,442.5 L448.3,432.5" stroke-width="0.9" />
<path d="M283.3,461.7 L298.7,488.3 L267.5,488.3 Z" stroke-width="0.9" fill="#fff"/>
<path d="M283.3,468.3 V481" stroke-width="2.2" stroke="#000" stroke-linecap="butt"/>
<circle cx="283.3" cy="484.4" r="1.3" fill="#000" stroke="none"/>
<path d="M479.2,397.3 L494.7,423.3 L463.3,423.3 Z" stroke-width="0.9" fill="#fff"/>
<path d="M479.2,404.6 V415.8" stroke-width="2.2" stroke="#000" stroke-linecap="butt"/>
<circle cx="479.2" cy="419.3" r="1.3" fill="#000" stroke="none"/>
<rect x="262.5" y="492.5" width="40.3" height="12.2" fill="#fff" stroke="#333" stroke-width="0.9"/>
<rect x="448.3" y="427.5" width="64.5" height="13" fill="#fff" stroke="#666" stroke-width="1.2"/>
<path d="M302.8,498 L320,505.2" stroke-width="0.9" />
<path d="M341,496 L352.6,488.6 L367,496.5" stroke-width="0.9" />
<path d="M361.5,502 L370,496.5 M377.5,491.5 L395,480.5" stroke-width="0.9" />
<path d="M382.5,515 L399,505.6" stroke-width="0.9" />
<path d="M415.5,538 L432,528.4 M436,526 L462.5,511" stroke-width="0.9" />
<ellipse cx="374.90000000000003" cy="494.495" rx="3.2" ry="4.8" transform="rotate(-28 374.90000000000003 494.495)" stroke-width="1.4" fill="#fff" />
<ellipse cx="373.8" cy="494" rx="3.2" ry="4.8" transform="rotate(-28 373.8 494)" stroke-width="1.2" fill="#fff" />
<ellipse cx="373.8" cy="494" rx="1.4400000000000002" ry="2.16" transform="rotate(-28 373.8 494)" stroke-width="1.2" fill="#999" />
<path d="M327.2,507.4 L341.3,498.8 A2.45,1.8375000000000001 58 0 0 338.7,494.6 L324.6,503.3" stroke-width="1.3" fill="#fff"/>
<path d="M329.4,507.6 L327.4,510.3 L323.5,508.2 L321.7,503.5 L323.7,500.8 L327.6,502.9Z" stroke-width="1.2" fill="#fff"/>
<path d="M327.6,508.5 L325.7,511.0 L322.0,509.1 L320.3,504.6 L322.2,502.1 L325.9,504.0Z" stroke-width="1.4" fill="#fff"/>
<ellipse cx="323.77389329091136" cy="506.6615971568455" rx="1.5" ry="2.6" transform="rotate(-31.546764693544553 323.77389329091136 506.6615971568455)" stroke-width="0.9" fill="none" />
<circle cx="323.8" cy="506.7" r="0.6" fill="#111" stroke="none"/>
<path d="M349.7,513.5 L363.3,504.5 A2.45,1.8375000000000001 57 0 0 360.7,500.5 L347.0,509.5" stroke-width="1.3" fill="#fff"/>
<path d="M352.0,513.8 L349.9,516.4 L346.0,514.3 L344.1,509.7 L346.2,507.0 L350.1,509.1Z" stroke-width="1.2" fill="#fff"/>
<path d="M350.2,514.7 L348.2,517.2 L344.5,515.2 L342.7,510.8 L344.7,508.4 L348.4,510.3Z" stroke-width="1.4" fill="#fff"/>
<ellipse cx="346.2827203754864" cy="512.8754590985352" rx="1.5" ry="2.6" transform="rotate(-33.43002795209804 346.2827203754864 512.8754590985352)" stroke-width="0.9" fill="none" />
<circle cx="346.3" cy="512.9" r="0.6" fill="#111" stroke="none"/>
<path d="M373.0,523.4 L383.0,517.6 A2.45,1.8375000000000001 60 0 0 380.6,513.4 L370.5,519.2" stroke-width="1.3" fill="#fff"/>
<path d="M375.2,523.5 L373.2,526.3 L369.4,524.2 L367.6,519.5 L369.6,516.7 L373.4,518.8Z" stroke-width="1.2" fill="#fff"/>
<path d="M373.3,524.4 L371.4,526.9 L367.8,525.0 L366.1,520.5 L368.1,518.0 L371.6,519.9Z" stroke-width="1.4" fill="#fff"/>
<ellipse cx="369.5667850175166" cy="522.5496493119396" rx="1.5" ry="2.6" transform="rotate(-29.953608167801306 369.5667850175166 522.5496493119396)" stroke-width="0.9" fill="none" />
<circle cx="369.6" cy="522.5" r="0.6" fill="#111" stroke="none"/>
<path d="M405.9,546.2 L416.2,540.4 A2.45,1.8375000000000001 61 0 0 413.8,536.2 L403.6,541.9" stroke-width="1.3" fill="#fff"/>
<path d="M408.2,546.3 L406.2,549.0 L402.4,547.0 L400.6,542.2 L402.6,539.4 L406.4,541.5Z" stroke-width="1.2" fill="#fff"/>
<path d="M406.3,547.1 L404.4,549.7 L400.8,547.7 L399.2,543.2 L401.1,540.6 L404.6,542.6Z" stroke-width="1.4" fill="#fff"/>
<ellipse cx="402.56343715894104" cy="545.2437475862579" rx="1.5" ry="2.6" transform="rotate(-29.17607906797869 402.56343715894104 545.2437475862579)" stroke-width="0.9" fill="none" />
<circle cx="402.6" cy="545.2" r="0.6" fill="#111" stroke="none"/>
<path d="M304.2,535 L344.2,515" stroke-width="0.9" />
<path d="M247.5,457.5 L233.7,533.3" stroke-width="0.9" />
<path d="M369.2,526.7 L373.3,552.5 L398.3,547.5" stroke-width="0.9" />
</g>
</g>
<g fill="#3a3a3a" font-family='"Liberation Sans", sans-serif'>
<text x="118.7" y="22.5" font-size="11.2" textLength="53.8" lengthAdjust="spacingAndGlyphs" text-anchor="start" >M8x40 - 1x</text>
<text x="118.7" y="47.5" font-size="11.2" textLength="60" lengthAdjust="spacingAndGlyphs" text-anchor="start" >M12x30 - 4x</text>
<text x="118.7" y="60" font-size="11.2" textLength="60" lengthAdjust="spacingAndGlyphs" text-anchor="start" >M12x40 - 2x</text>
<text x="118.7" y="72.5" font-size="11.2" textLength="86.3" lengthAdjust="spacingAndGlyphs" text-anchor="start" >M12x1,25x40 - 4x</text>
<text x="118.7" y="85" font-size="11.2" textLength="78.8" lengthAdjust="spacingAndGlyphs" text-anchor="start" >M12x70 - 2x (A)</text>
<text x="118.7" y="97.5" font-size="11.2" textLength="72.5" lengthAdjust="spacingAndGlyphs" text-anchor="start" >M12x90 - 2x (I)</text>
<text x="118.7" y="110" font-size="11.2" textLength="78.8" lengthAdjust="spacingAndGlyphs" text-anchor="start" >M12x19 - 4x (C)</text>
<text x="271.2" y="46.2" font-size="11.2" textLength="42.5" lengthAdjust="spacingAndGlyphs" text-anchor="start" >SM8 - 1x</text>
<text x="271.2" y="83.7" font-size="11.2" textLength="70.8" lengthAdjust="spacingAndGlyphs" text-anchor="start" >M12 - 6x (A, I)</text>
<text x="271.2" y="96.2" font-size="11.2" textLength="63" lengthAdjust="spacingAndGlyphs" text-anchor="start" >M12 - 4x (C)</text>
<text x="425.5" y="70" font-size="11.2" textLength="40.2" lengthAdjust="spacingAndGlyphs" text-anchor="start" >P12 - 4x</text>
<text x="523" y="18.7" font-size="11.2" textLength="33.7" lengthAdjust="spacingAndGlyphs" text-anchor="start" >P8 - 1x</text>
<text x="523" y="39.2" font-size="11.2" textLength="80.2" lengthAdjust="spacingAndGlyphs" text-anchor="start" >PP12 - 10x (A, I)</text>
<text x="523" y="51.7" font-size="11.2" textLength="72" lengthAdjust="spacingAndGlyphs" text-anchor="start" >PP12 - 12x (C)</text>
<text x="545.5" y="102.5" font-size="11.2" textLength="46.5" lengthAdjust="spacingAndGlyphs" text-anchor="start" >PR14 - 1x</text>
<text x="685.5" y="38" font-size="11.2" textLength="85.7" lengthAdjust="spacingAndGlyphs" text-anchor="start" >P25x40/M12 - 2x</text>
<text x="743.7" y="101.2" font-size="11.2" textLength="55.5" lengthAdjust="spacingAndGlyphs" text-anchor="start" >BP 360 - 2x</text>
<text x="72.8" y="331.2" font-size="11.2" textLength="62.4" lengthAdjust="spacingAndGlyphs" text-anchor="start" >M12x19 - 4x</text>
<text x="88.8" y="551.2" font-size="11.2" textLength="94.4" lengthAdjust="spacingAndGlyphs" text-anchor="start" >M12x90 (10.9) - 2x</text>
<text x="114" y="562.8" font-size="11.2" textLength="39.2" lengthAdjust="spacingAndGlyphs" text-anchor="start" >110 Nm</text>
<text x="264.2" y="502.5" font-size="11.2" textLength="38.3" lengthAdjust="spacingAndGlyphs" text-anchor="start" >M12x40</text>
<text x="236.3" y="539.2" font-size="11.2" textLength="66.5" lengthAdjust="spacingAndGlyphs" text-anchor="start" >M12x1,25x40</text>
<text x="332" y="558.6" font-size="11.2" textLength="39.2" lengthAdjust="spacingAndGlyphs" text-anchor="start" >M12x30</text>
<text x="449.4" y="437.8" font-size="11.5" textLength="63.2" lengthAdjust="spacingAndGlyphs" text-anchor="start" >P25x40/M12</text>
<text x="644.8" y="519.2" font-size="11.2" textLength="61.2" lengthAdjust="spacingAndGlyphs" text-anchor="start" >M12x70 - 2x</text>
<text x="635.2" y="572" font-size="11.2" textLength="66.8" lengthAdjust="spacingAndGlyphs" text-anchor="start" >MAZDA CX-5</text>
<text x="635.2" y="589.2" font-size="11.2" textLength="156.8" lengthAdjust="spacingAndGlyphs" text-anchor="start" >Kód: M1295(A,I,C) - 12. 8. 2022</text>
<text x="214" y="588" font-size="11.2" textLength="64" lengthAdjust="spacingAndGlyphs" text-anchor="start" >AIC 325 12 2</text>
</g>
<g fill="#000" font-family='"Liberation Sans", sans-serif' stroke="#fff" stroke-width="0.8" paint-order="fill stroke">
<text x="23.1" y="160.4" font-size="34.5" textLength="27" lengthAdjust="spacingAndGlyphs" text-anchor="middle" >C</text>
<text x="23" y="589.4" font-size="34" text-anchor="middle" >I</text>
<text x="819.8" y="589.4" font-size="34" textLength="24.5" lengthAdjust="spacingAndGlyphs" text-anchor="middle" >A</text>
</g>
<g fill="#000" font-family='"Liberation Sans", sans-serif' stroke="#fff" stroke-width="0.35" paint-order="fill stroke">
<text x="350.4" y="401.4" font-size="19.8" text-anchor="middle" >B</text>
<text x="664.2" y="259.7" font-size="19.3" text-anchor="middle" >A</text>
<text x="610" y="378" font-size="19.3" text-anchor="middle" >C</text>
</g>
<g fill="#000" font-family='"Liberation Sans", sans-serif' font-weight="bold">
<text x="410.2" y="402" font-size="19" text-anchor="middle" >X</text>
<text x="791.2" y="218" font-size="19" text-anchor="middle" >X</text>
</g>
<g fill="#111" font-family='"Liberation Sans", sans-serif'>
<text x="238.9" y="155.9" font-size="17.6" textLength="58.3" lengthAdjust="spacingAndGlyphs" text-anchor="start" >DETAIL</text>
<text x="236.4" y="231.6" font-size="16.2" text-anchor="start" >L</text>
<text x="379.5" y="231.6" font-size="16.2" textLength="34.3" lengthAdjust="spacingAndGlyphs" text-anchor="start" >P(R)</text>
<text x="298.3" y="175.8" font-size="10.5" textLength="16.7" lengthAdjust="spacingAndGlyphs" text-anchor="start" >170</text>
<text x="327" y="175.8" font-size="10.5" textLength="12.2" lengthAdjust="spacingAndGlyphs" text-anchor="start" >40</text>
<text font-size="10.5" textLength="12" lengthAdjust="spacingAndGlyphs" transform="translate(369 176.7) rotate(-90)">25</text>
</g>
</svg></body></html>
